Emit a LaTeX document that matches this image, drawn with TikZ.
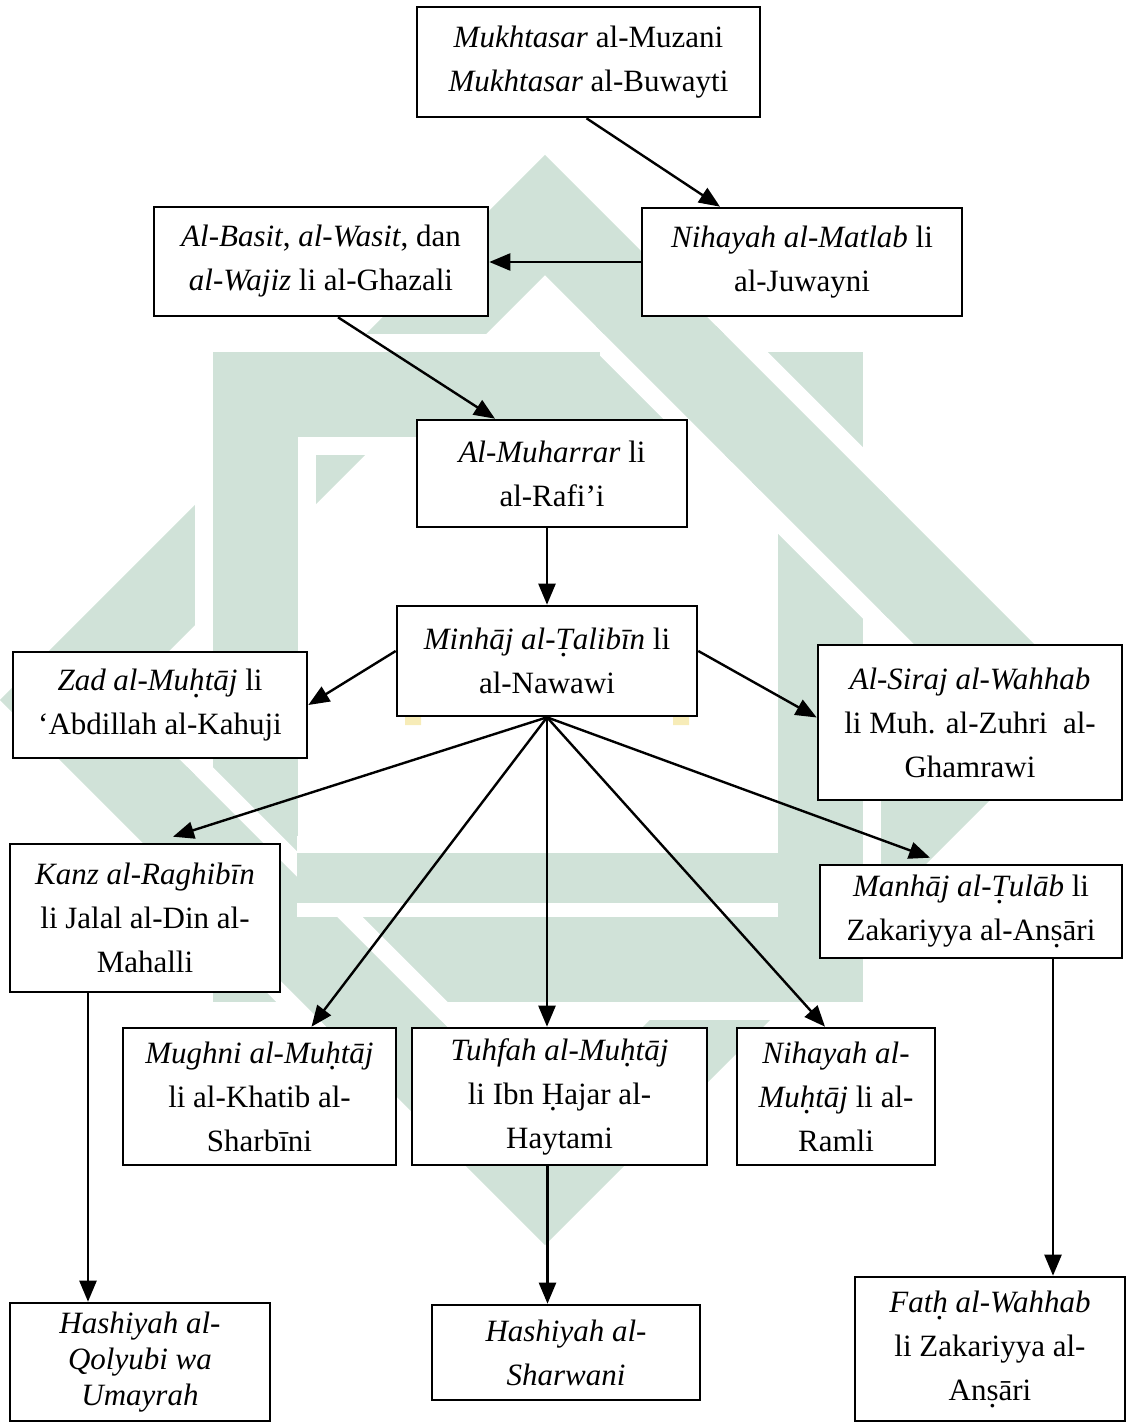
\documentclass[tikz,border=0pt]{standalone}
\usepackage{fontspec}
\setmainfont{Liberation Serif}
\usetikzlibrary{arrows.meta}
\newcommand\udot[1]{\ooalign{#1\cr\hidewidth\raisebox{-0.22em}{\smash{.}}\hidewidth\cr}}
\definecolor{wmgreen}{RGB}{208,226,216}
\definecolor{wmyellow}{RGB}{247,236,184}
\tikzset{
  bx/.style={draw=black, line width=2.6pt, fill=white, inner sep=0pt, align=center,
    font=\fontsize{31}{44}\selectfont},
  ar/.style={line width=2.4pt, -{Triangle[length=21pt,width=17pt]}},
  band/.style={draw=wmgreen, line width=85pt, line join=miter},
  casing/.style={draw=white, line width=121pt, line join=miter},
}
\newcommand\bxat[6]{% name, x1, x2, y1, y2, text
  \node[bx, minimum width={(#3-#2)*1pt}, minimum height={(#5-#4)*1pt}]
    (#1) at ({(#2+#3)/2},{(#4+#5)/2}) {#6};}
\newcommand\diampath{(545,215) -- (1030,700) -- (545,1185) -- (60,700) -- cycle}
\newcommand\sqpath{(255,394) -- (820,394) -- (820,959) -- (255,959) -- cycle}
\begin{document}
\begin{tikzpicture}[x=1pt,y=-1pt]
\useasboundingbox (0,0) rectangle (1127,1423);
% ---- watermark (faint interlaced logo) ----
\draw[band] \diampath;
\draw[casing] \sqpath;
\draw[band] \sqpath;
\begin{scope}
  \clip (600,334) rectangle (880,454) (760,334) rectangle (880,620);
  \draw[casing] \diampath;
\end{scope}
\begin{scope}
  \clip (592,326) rectangle (888,462) (752,326) rectangle (888,628);
  \draw[band] \diampath;
\end{scope}
\begin{scope}
  \clip (195,760) rectangle (315,1019) (195,899) rectangle (470,1019);
  \draw[casing] \diampath;
\end{scope}
\begin{scope}
  \clip (187,752) rectangle (323,1027) (187,891) rectangle (478,1027);
  \draw[band] \diampath;
\end{scope}
\fill[white] (297,836) rectangle (778,917);
\fill[wmgreen] (297,853) rectangle (778,903);
\draw[wmyellow, line width=16pt] (413,725) -- (413,690) arc[start angle=180, end angle=360, x radius=134, y radius=72] -- (681,725);
% ---- boxes ----
\bxat{muk}{417}{760}{7}{117}{\textit{Mukhtasar} al-Muzani\\\textit{Mukhtasar} al-Buwayti}
\bxat{nih}{642}{962}{208}{316}{\textit{Nihayah al-Matlab} li\\al-Juwayni}
\bxat{bas}{154}{488}{207}{316}{\textit{Al-Basit}, \textit{al-Wasit}, dan\\\textit{al-Wajiz} li al-Ghazali}
\bxat{muh}{417}{687}{420}{527}{\textit{Al-Muharrar} li\\al-Rafi’i}
\bxat{min}{397}{697}{606}{716}{\textit{Minh\=aj al-\udot{T}alib\=in} li\\al-Nawawi}
\bxat{zad}{13}{307}{652}{758}{\textit{Zad al-Mu\udot{h}t\=aj} li\\‘Abdillah al-Kahuji}
\bxat{sir}{818}{1122}{645}{800}{\textit{Al-Siraj al-Wahhab}\\li Muh. al-Zuhri\ \ al-\\Ghamrawi}
\bxat{kan}{10}{280}{844}{992}{\textit{Kanz al-Raghib\=in}\\li Jalal al-Din al-\\Mahalli}
\bxat{man}{820}{1122}{865}{958}{\textit{Manh\=aj al-\udot{T}ul\=ab} li\\Zakariyya al-An\udot{s}\=ari}
\bxat{mug}{123}{396}{1028}{1165}{\textit{Mughni al-Mu\udot{h}t\=aj}\\li al-Khatib al-\\Sharb\=ini}
\bxat{tuh}{412}{707}{1028}{1165}{\textit{Tuhfah al-Mu\udot{h}t\=aj}\\li Ibn \udot{H}ajar al-\\Haytami}
\bxat{nim}{737}{935}{1028}{1165}{\textit{Nihayah al-}\\\textit{Mu\udot{h}t\=aj} li al-\\Ramli}
\node[bx, font=\fontsize{31}{36}\selectfont, minimum width=260pt, minimum height=118pt]
  (qol) at (140,1362) {\textit{Hashiyah al-}\\\textit{Qolyubi wa}\\\textit{Umayrah}};
\bxat{sha}{432}{700}{1305}{1400}{\textit{Hashiyah al-}\\\textit{Sharwani}}
\bxat{fat}{855}{1125}{1277}{1421}{\textit{Fat\udot{h} al-Wahhab}\\li Zakariyya al-\\An\udot{s}\=ari}
% ---- connectors ----
\draw[ar] ([xshift=-2pt]muk.south) -- ([xshift=-82pt]nih.north);
\draw[ar] (nih.west) -- (nih.west -| bas.east);
\draw[ar] ([xshift=17pt]bas.south) -- ([xshift=-57pt]muh.north);
\draw[ar] ([xshift=-5pt]muh.south) -- ([xshift=-5pt]muh.south |- min.north);
\draw[ar] ([shift={(0,-10)}]min.west) -- (zad.east);
\draw[ar] ([shift={(0,-10)}]min.east) -- ([shift={(0,-5)}]sir.west);
\coordinate (o) at (min.south);
\draw[ar] (o) -- ([shift={(28,-6)}]kan.north);
\draw[ar] (o) -- ([shift={(52,0)}]mug.north);
\draw[ar] (o) -- (o |- tuh.north);
\draw[ar] (o) -- ([shift={(-11,0)}]nim.north);
\draw[ar] (o) -- ([shift={(-41,-6)}]man.north);
\draw[ar] ([xshift=-57pt]kan.south) -- ([xshift=-57pt]kan.south |- qol.north);
\draw[ar] ([xshift=-12pt]tuh.south) -- ([xshift=-12pt]tuh.south |- sha.north);
\draw[ar] ([xshift=82pt]man.south) -- ([xshift=82pt]man.south |- fat.north);
\end{tikzpicture}
\end{document}
